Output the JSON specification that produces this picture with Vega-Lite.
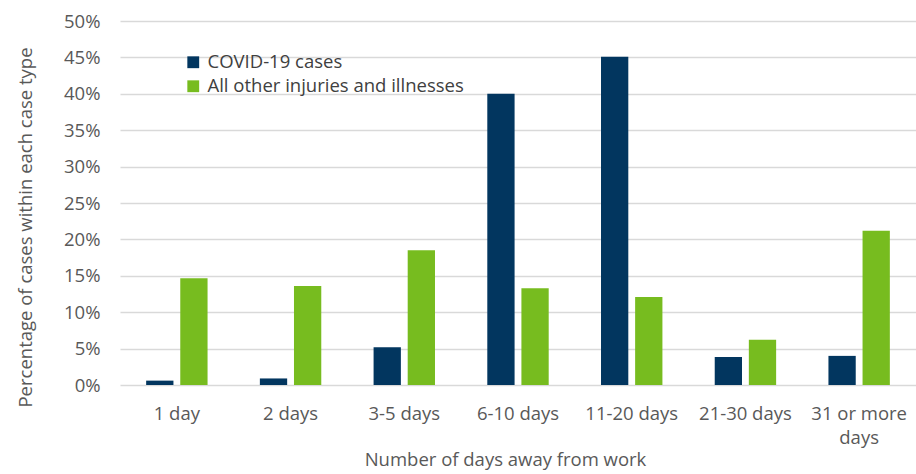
{
  "$schema": "https://vega.github.io/schema/vega-lite/v6.json",
  "width": 796,
  "height": 364,
  "autosize": {"type": "none"},
  "padding": {"left": 120, "top": 21, "right": 0, "bottom": 89},
  "background": "white",
  "data": {
    "values": [
      {"days": "1 day", "type": "COVID-19 cases", "pct": 0.006},
      {"days": "1 day", "type": "All other injuries and illnesses", "pct": 0.1465},
      {"days": "2 days", "type": "COVID-19 cases", "pct": 0.009},
      {"days": "2 days", "type": "All other injuries and illnesses", "pct": 0.136},
      {"days": "3-5 days", "type": "COVID-19 cases", "pct": 0.052},
      {"days": "3-5 days", "type": "All other injuries and illnesses", "pct": 0.185},
      {"days": "6-10 days", "type": "COVID-19 cases", "pct": 0.40},
      {"days": "6-10 days", "type": "All other injuries and illnesses", "pct": 0.133},
      {"days": "11-20 days", "type": "COVID-19 cases", "pct": 0.451},
      {"days": "11-20 days", "type": "All other injuries and illnesses", "pct": 0.121},
      {"days": "21-30 days", "type": "COVID-19 cases", "pct": 0.0385},
      {"days": "21-30 days", "type": "All other injuries and illnesses", "pct": 0.062},
      {"days": "31 or more days", "type": "COVID-19 cases", "pct": 0.040},
      {"days": "31 or more days", "type": "All other injuries and illnesses", "pct": 0.212}
    ]
  },
  "mark": {"type": "bar", "stroke": null},
  "encoding": {
    "x": {
      "field": "days",
      "type": "nominal",
      "sort": null,
      "scale": {"paddingInner": 0.46, "paddingOuter": 0.23},
      "axis": {
        "title": "Number of days away from work",
        "titleFont": "Open Sans",
        "titleFontSize": 18.5,
        "titleFontWeight": "normal",
        "titleColor": "#595959",
        "titlePadding": 4,
        "titleX": 385,
        "labelFont": "Open Sans",
        "labelFontSize": 18.5,
        "labelColor": "#595959",
        "labelAngle": 0,
        "labelPadding": 19,
        "labelLineHeight": 24,
        "labelLimit": 300,
        "labelExpr": "datum.value == '31 or more days' ? ['31 or more', 'days'] : datum.value",
        "domain": false,
        "ticks": false,
        "grid": false
      }
    },
    "xOffset": {
      "field": "type",
      "type": "nominal",
      "sort": ["COVID-19 cases", "All other injuries and illnesses"],
      "scale": {"paddingInner": 0.2}
    },
    "y": {
      "field": "pct",
      "type": "quantitative",
      "scale": {"domain": [0, 0.5], "nice": false},
      "axis": {
        "title": "Percentage of cases within each case type",
        "titleFont": "Open Sans",
        "titleFontSize": 18.5,
        "titleFontWeight": "normal",
        "titleColor": "#595959",
        "titlePadding": 28,
        "titleY": 206,
        "format": ".0%",
        "values": [0, 0.05, 0.1, 0.15, 0.2, 0.25, 0.3, 0.35, 0.4, 0.45, 0.5],
        "labelFont": "Open Sans",
        "labelFontSize": 18.5,
        "labelColor": "#595959",
        "labelPadding": 20,
        "domain": false,
        "ticks": false,
        "gridColor": "#d9d9d9",
        "gridWidth": 1.5
      }
    },
    "color": {
      "field": "type",
      "type": "nominal",
      "sort": ["COVID-19 cases", "All other injuries and illnesses"],
      "scale": {"domain": ["COVID-19 cases", "All other injuries and illnesses"], "range": ["#02365f", "#77bc1f"]},
      "legend": {
        "title": null,
        "orient": "none",
        "legendX": 64,
        "legendY": 32,
        "symbolType": "square",
        "symbolSize": 140,
        "symbolStrokeWidth": 0,
        "labelFont": "Open Sans",
        "labelFontSize": 18.5,
        "labelColor": "#404040",
        "labelLimit": 500,
        "rowPadding": 5,
        "labelOffset": 5
      }
    }
  },
  "config": {"view": {"stroke": null}}
}
